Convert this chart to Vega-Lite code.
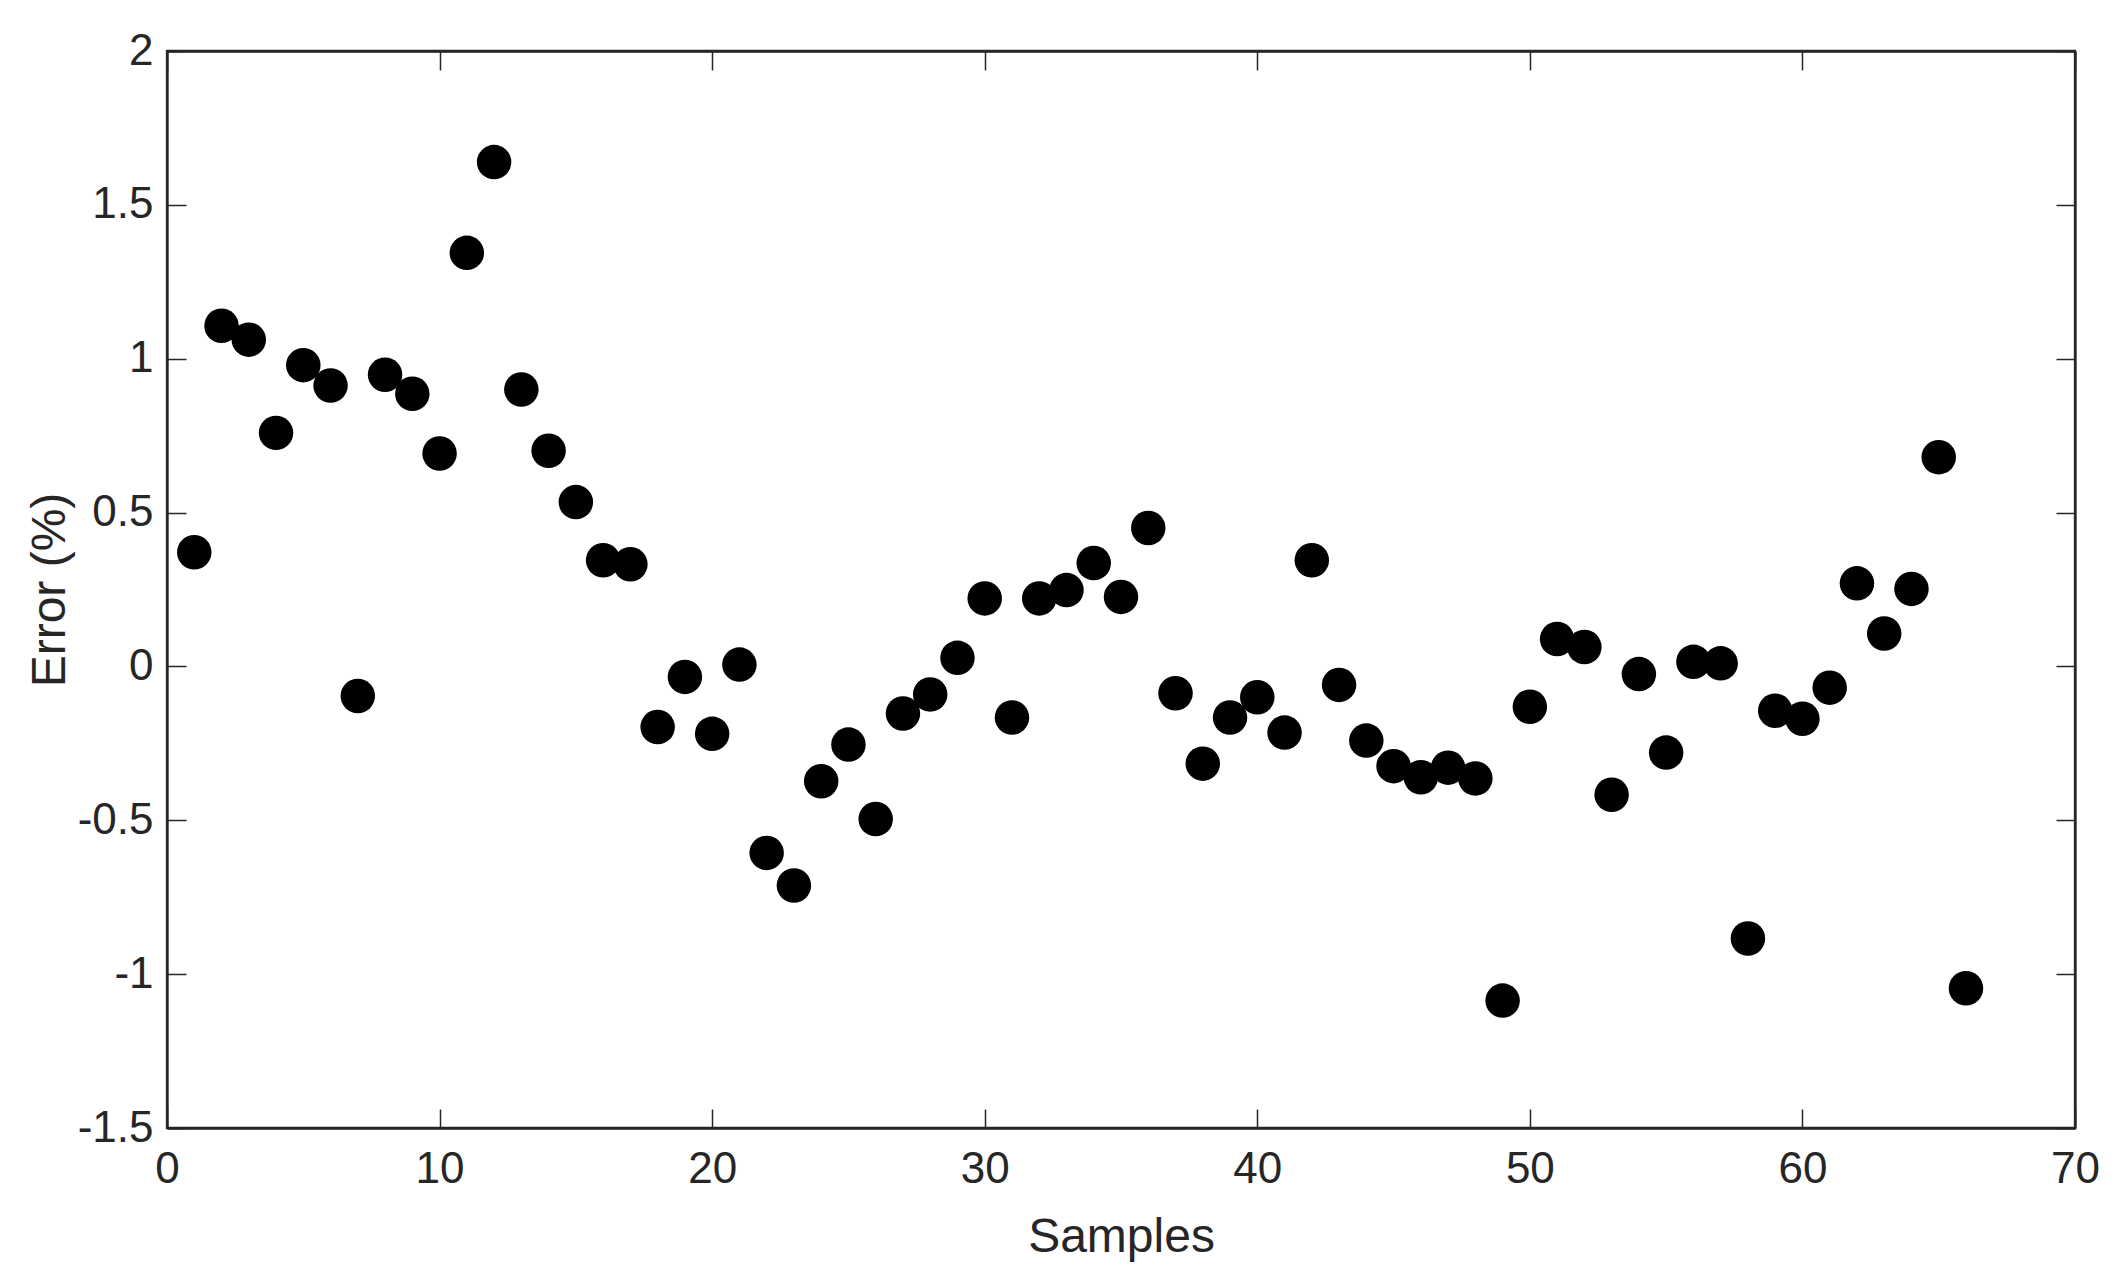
{
  "$schema": "https://vega.github.io/schema/vega-lite/v6.json",
  "autosize": "none",
  "width": 1908,
  "height": 1077,
  "padding": {"left": 167, "top": 51, "right": 50, "bottom": 147},
  "background": "white",
  "config": {
    "font": "Liberation Sans",
    "view": {"stroke": "#262626", "strokeWidth": 2.3},
    "axis": {
      "grid": false,
      "domainColor": "#262626",
      "domainWidth": 2.3,
      "tickColor": "#262626",
      "tickWidth": 1.5,
      "tickSize": -19,
      "labelFlush": false,
      "labelOverlap": false,
      "labelFont": "Liberation Sans",
      "labelFontSize": 44,
      "labelColor": "#262626",
      "titleFont": "Liberation Sans",
      "titleFontSize": 48,
      "titleFontWeight": "normal",
      "titleColor": "#262626"
    }
  },
  "data": {
    "values": [
      {"sample": 1, "error": 0.371},
      {"sample": 2, "error": 1.107},
      {"sample": 3, "error": 1.062},
      {"sample": 4, "error": 0.759},
      {"sample": 5, "error": 0.979},
      {"sample": 6, "error": 0.913},
      {"sample": 7, "error": -0.096},
      {"sample": 8, "error": 0.948},
      {"sample": 9, "error": 0.886},
      {"sample": 10, "error": 0.692},
      {"sample": 11, "error": 1.344},
      {"sample": 12, "error": 1.639},
      {"sample": 13, "error": 0.9},
      {"sample": 14, "error": 0.701},
      {"sample": 15, "error": 0.534},
      {"sample": 16, "error": 0.345},
      {"sample": 17, "error": 0.332},
      {"sample": 18, "error": -0.197},
      {"sample": 19, "error": -0.034},
      {"sample": 20, "error": -0.219},
      {"sample": 21, "error": 0.006},
      {"sample": 22, "error": -0.606},
      {"sample": 23, "error": -0.712},
      {"sample": 24, "error": -0.373},
      {"sample": 25, "error": -0.254},
      {"sample": 26, "error": -0.496},
      {"sample": 27, "error": -0.153},
      {"sample": 28, "error": -0.091},
      {"sample": 29, "error": 0.028},
      {"sample": 30, "error": 0.221},
      {"sample": 31, "error": -0.166},
      {"sample": 32, "error": 0.221},
      {"sample": 33, "error": 0.248},
      {"sample": 34, "error": 0.336},
      {"sample": 35, "error": 0.226},
      {"sample": 36, "error": 0.45},
      {"sample": 37, "error": -0.087},
      {"sample": 38, "error": -0.316},
      {"sample": 39, "error": -0.166},
      {"sample": 40, "error": -0.1},
      {"sample": 41, "error": -0.215},
      {"sample": 42, "error": 0.345},
      {"sample": 43, "error": -0.06},
      {"sample": 44, "error": -0.241},
      {"sample": 45, "error": -0.324},
      {"sample": 46, "error": -0.36},
      {"sample": 47, "error": -0.329},
      {"sample": 48, "error": -0.364},
      {"sample": 49, "error": -1.086},
      {"sample": 50, "error": -0.131},
      {"sample": 51, "error": 0.089},
      {"sample": 52, "error": 0.063},
      {"sample": 53, "error": -0.417},
      {"sample": 54, "error": -0.025},
      {"sample": 55, "error": -0.28},
      {"sample": 56, "error": 0.015},
      {"sample": 57, "error": 0.01},
      {"sample": 58, "error": -0.884},
      {"sample": 59, "error": -0.144},
      {"sample": 60, "error": -0.17},
      {"sample": 61, "error": -0.069},
      {"sample": 62, "error": 0.27},
      {"sample": 63, "error": 0.107},
      {"sample": 64, "error": 0.252},
      {"sample": 65, "error": 0.68},
      {"sample": 66, "error": -1.046}
    ]
  },
  "layer": [
    {
      "mark": {"type": "point", "filled": true, "shape": "circle", "size": 1190, "color": "black", "opacity": 1},
      "encoding": {
        "x": {
          "field": "sample", "type": "quantitative",
          "scale": {"domain": [0, 70], "nice": false, "zero": false},
          "axis": {"orient": "bottom", "title": "Samples", "values": [0, 10, 20, 30, 40, 50, 60, 70], "labelPadding": 38, "titlePadding": 22, "labelExpr": "'' + datum.value"}
        },
        "y": {
          "field": "error", "type": "quantitative",
          "scale": {"domain": [-1.5, 2], "nice": false, "zero": false},
          "axis": {"orient": "left", "title": "Error (%)", "values": [-1.5, -1, -0.5, 0, 0.5, 1, 1.5, 2], "labelPadding": 33, "titlePadding": 3, "labelExpr": "'' + datum.value"}
        }
      }
    },
    {
      "mark": {"type": "point", "opacity": 0},
      "encoding": {
        "x": {
          "field": "sample", "type": "quantitative",
          "axis": {"orient": "top", "title": null, "labels": false, "values": [0, 10, 20, 30, 40, 50, 60, 70]}
        },
        "y": {
          "field": "error", "type": "quantitative",
          "axis": {"orient": "right", "title": null, "labels": false, "values": [-1.5, -1, -0.5, 0, 0.5, 1, 1.5, 2]}
        }
      }
    }
  ],
  "resolve": {"axis": {"x": "independent", "y": "independent"}}
}
